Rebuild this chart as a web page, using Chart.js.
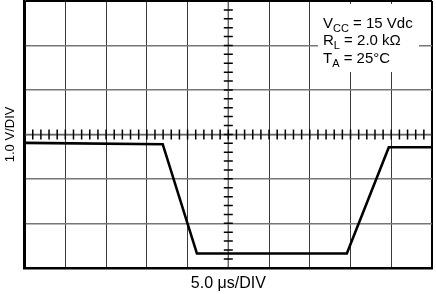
<!DOCTYPE html>
<html>
<head>
<meta charset="utf-8">
<script src="https://cdn.jsdelivr.net/npm/chart.js@4"></script>
<style>
  html, body { margin: 0; padding: 0; background: #fff; }
  #wrap { width: 436px; height: 294px; }
</style>
</head>
<body>
<div id="wrap"><canvas id="scope"></canvas></div>
<script>
/* scope trace, in divisions (x: 0..10, y: -3..+3 around the centre line) */
const TIME_DIV = [0, 3.39, 4.23, 7.91, 8.94, 10];
const VOLT_DIV = [-0.19, -0.22, -2.68, -2.68, -0.29, -0.29];
const X_RANGE = [0, 10];
const Y_RANGE = [-3, 3];
const MINOR_STEP = 0.2;
const X_TITLE = '5.0 \u03bcs/DIV';
const Y_TITLE = '1.0 V/DIV';
const NOTE_LINES = [
  ['V', 'CC', ' = 15 Vdc'],
  ['R', 'L', ' = 2.0 k\u03a9'],
  ['T', 'A', ' = 25\u00b0C'],
];

const FONT = '"Liberation Sans", Arial, Helvetica, sans-serif';

function edgeColor(ctx, min, max) {
  const v = ctx.tick.value;
  return (v === min || v === max) ? '#000' : null;
}

/* ── centre crosshair with minor ticks ── */
const scopeMarks = {
  id: 'scopeMarks',
  beforeDatasetsDraw(chart) {
    const {ctx, chartArea: a, scales: {x, y}} = chart;
    const xc = x.getPixelForValue((X_RANGE[0] + X_RANGE[1]) / 2);
    const yc = y.getPixelForValue(0);
    ctx.save();
    ctx.strokeStyle = '#666';
    ctx.lineWidth = 1.5;
    ctx.beginPath();
    ctx.moveTo(xc, a.top); ctx.lineTo(xc, a.bottom);
    ctx.moveTo(a.left, yc); ctx.lineTo(a.right, yc);
    ctx.stroke();
    ctx.strokeStyle = '#000';
    ctx.lineWidth = 1.5;
    ctx.beginPath();
    const nx = Math.round((X_RANGE[1] - X_RANGE[0]) / MINOR_STEP);
    for (let i = 0; i <= nx; i++) {
      const px = x.getPixelForValue(X_RANGE[0] + i * MINOR_STEP);
      ctx.moveTo(px, yc - 5); ctx.lineTo(px, yc + 5);
    }
    const ny = Math.round((Y_RANGE[1] - Y_RANGE[0]) / MINOR_STEP);
    for (let i = 0; i <= ny; i++) {
      const py = y.getPixelForValue(Y_RANGE[0] + i * MINOR_STEP);
      ctx.moveTo(xc - 4.5, py); ctx.lineTo(xc + 4.5, py);
    }
    ctx.stroke();
    ctx.restore();
  },
  afterDraw(chart) {
    const {ctx, chartArea: a} = chart;
    const bx = a.right - 114, by = a.top + 3;
    ctx.save();
    ctx.fillStyle = '#fff';
    ctx.fillRect(bx, by, 101, 68);
    ctx.fillStyle = '#000';
    ctx.textBaseline = 'alphabetic';
    NOTE_LINES.forEach((ln, i) => {
      let tx = bx + 5;
      const base = by + 23.5 + i * 17.7;
      ctx.font = '15px ' + FONT;
      ctx.fillText(ln[0], tx, base);
      tx += ctx.measureText(ln[0]).width;
      ctx.font = '11px ' + FONT;
      ctx.fillText(ln[1], tx, base + 4);
      tx += ctx.measureText(ln[1]).width;
      ctx.font = '15px ' + FONT;
      ctx.fillText(ln[2], tx, base);
    });
    ctx.restore();
  },
};

new Chart(document.getElementById('scope'), {
  type: 'line',
  data: {
    datasets: [{
      data: TIME_DIV.map((t, i) => ({x: t, y: VOLT_DIV[i]})),
      borderColor: '#000',
      borderWidth: 2.6,
      pointRadius: 0,
      tension: 0,
      fill: false,
    }],
  },
  options: {
    responsive: true,
    maintainAspectRatio: false,
    animation: false,
    layout: {padding: {left: 0, right: 4, top: 1, bottom: 0}},
    plugins: {legend: {display: false}, tooltip: {enabled: false}},
    scales: {
      x: {
        type: 'linear', min: X_RANGE[0], max: X_RANGE[1],
        ticks: {display: false, stepSize: 1},
        grid: {
          drawTicks: false,
          color: (c) => edgeColor(c, X_RANGE[0], X_RANGE[1]) || '#3a3a3a',
          lineWidth: (c) => edgeColor(c, X_RANGE[0], X_RANGE[1]) ? 2 : 1,
        },
        border: {display: true, color: '#000', width: 2.5},
        title: {display: true, text: X_TITLE, color: '#000',
                font: {family: FONT, size: 16}, padding: {top: 6, bottom: 1}},
      },
      y: {
        type: 'linear', min: Y_RANGE[0], max: Y_RANGE[1],
        ticks: {display: false, stepSize: 1},
        grid: {
          drawTicks: false,
          color: (c) => edgeColor(c, Y_RANGE[0], Y_RANGE[1]) || '#777',
          lineWidth: (c) => edgeColor(c, Y_RANGE[0], Y_RANGE[1]) ? 2 : 1.5,
        },
        border: {display: true, color: '#000', width: 2.5},
        title: {display: true, text: Y_TITLE, color: '#000',
                font: {family: FONT, size: 13}, padding: {top: 3, bottom: 6}},
      },
    },
  },
  plugins: [scopeMarks],
});
</script>
</body>
</html>
